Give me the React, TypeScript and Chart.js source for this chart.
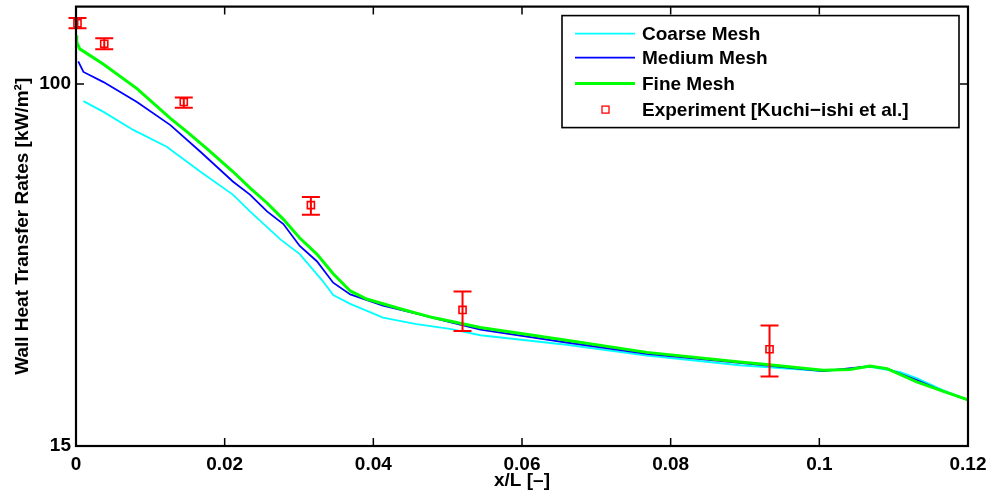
import React, { useEffect, useRef } from "react";
import { Chart, registerables } from "chart.js";

Chart.register(...registerables);

const FONT = '"Liberation Sans", Arial, Helvetica, sans-serif';

const coarseX = [0.001, 0.0037, 0.0077, 0.0122, 0.0167, 0.0211, 0.0234, 0.0275, 0.0301, 0.0332, 0.0346, 0.0369, 0.0413, 0.0458, 0.0503, 0.0544, 0.066, 0.0768, 0.0893, 0.1005, 0.1068, 0.1109, 0.1131, 0.1166, 0.12];
const coarseY = [91.4, 86.4, 78.6, 72.0, 63.2, 56.0, 51.3, 44.3, 41.0, 35.6, 33.1, 31.6, 29.4, 28.4, 27.7, 26.8, 25.5, 24.1, 22.9, 22.2, 22.7, 22.1, 21.4, 20.1, 19.1];

const mediumX = [0.0003, 0.001, 0.0037, 0.0082, 0.0127, 0.0167, 0.0211, 0.0234, 0.0257, 0.0279, 0.0301, 0.0324, 0.0346, 0.0369, 0.0413, 0.0458, 0.0503, 0.0544, 0.066, 0.0768, 0.0893, 0.1005, 0.1068, 0.1091, 0.1131, 0.1166, 0.12];
const mediumY = [112.6, 106.5, 101.0, 91.0, 80.6, 70.2, 60.0, 56.0, 51.3, 48.0, 42.8, 39.5, 35.3, 33.2, 31.3, 30.0, 28.7, 27.6, 25.8, 24.3, 23.2, 22.2, 22.8, 22.5, 21.2, 20.0, 19.1];

const fineX = [0, 0.0001, 0.0005, 0.0036, 0.0082, 0.0127, 0.0149, 0.0176, 0.0211, 0.0234, 0.0257, 0.0279, 0.0301, 0.0324, 0.0346, 0.0369, 0.0391, 0.0436, 0.048, 0.0544, 0.066, 0.0768, 0.0893, 0.0929, 0.1005, 0.1041, 0.1068, 0.1091, 0.1131, 0.1166, 0.12];
const fineY = [128.9, 124.5, 120.2, 111.2, 97.6, 83.5, 77.9, 71.3, 63.2, 58.0, 53.6, 49.2, 44.6, 41.0, 37.0, 33.8, 32.4, 30.8, 29.4, 27.9, 26.1, 24.5, 23.3, 23.0, 22.3, 22.4, 22.8, 22.5, 21.0, 20.0, 19.1];

const expX = [0.0002, 0.0038, 0.0145, 0.0316, 0.052, 0.0933];
const expY = [137.4, 123.4, 91.0, 53.0, 30.6, 24.9];
const expLow = [133.9, 120.0, 88.3, 50.4, 27.4, 21.6];
const expHigh = [141.3, 127.1, 93.1, 55.3, 33.7, 28.2];

const xTickValues = [0, 0.02, 0.04, 0.06, 0.08, 0.1, 0.12];
const xTickLabels = ["0", "0.02", "0.04", "0.06", "0.08", "0.1", "0.12"];
const yTickValues = [15, 100];
const yTickLabels = ["15", "100"];

const seriesLabels = ["Coarse Mesh", "Medium Mesh", "Fine Mesh", "Experiment [Kuchi\u2212ishi et al.]"];
const seriesColors = ["#00ffff", "#0000ff", "#00ff00", "#ff0000"];

const toPts = (xs: number[], ys: number[]) => xs.map((x, i) => ({ x, y: ys[i] }));

const errorBarPlugin = {
  id: "errorBars",
  afterDatasetsDraw(chart: any) {
    const { ctx, scales } = chart;
    const xs = scales.x;
    const ys = scales.y;
    ctx.save();
    ctx.strokeStyle = "#ff0000";
    ctx.lineWidth = 2;
    for (let i = 0; i < expX.length; i++) {
      const px = xs.getPixelForValue(expX[i]);
      const pl = ys.getPixelForValue(expLow[i]);
      const ph = ys.getPixelForValue(expHigh[i]);
      ctx.beginPath();
      ctx.moveTo(px, pl);
      ctx.lineTo(px, ph);
      ctx.moveTo(px - 9, pl);
      ctx.lineTo(px + 9, pl);
      ctx.moveTo(px - 9, ph);
      ctx.lineTo(px + 9, ph);
      ctx.stroke();
    }
    ctx.restore();
  },
};

const framePlugin = {
  id: "frame",
  afterDraw(chart: any) {
    const { ctx, chartArea, scales } = chart;
    const { left, right, top, bottom } = chartArea;
    ctx.save();
    ctx.strokeStyle = "#000";
    ctx.lineWidth = 1.5;
    ctx.beginPath();
    xTickValues.forEach((v) => {
      const px = scales.x.getPixelForValue(v);
      ctx.moveTo(px, bottom);
      ctx.lineTo(px, bottom - 8);
      ctx.moveTo(px, top);
      ctx.lineTo(px, top + 8);
    });
    yTickValues.forEach((v) => {
      const py = scales.y.getPixelForValue(v);
      ctx.moveTo(left, py);
      ctx.lineTo(left + 8, py);
      ctx.moveTo(right, py);
      ctx.lineTo(right - 8, py);
    });
    ctx.stroke();
    ctx.lineWidth = 2.2;
    ctx.strokeRect(left, top, right - left, bottom - top);

    // legend
    const lw = 397;
    const lh = 112;
    const lx = right - 9 - lw;
    const ly = top + 9;
    ctx.fillStyle = "#fff";
    ctx.fillRect(lx, ly, lw, lh);
    ctx.lineWidth = 1.6;
    ctx.strokeStyle = "#000";
    ctx.strokeRect(lx, ly, lw, lh);
    ctx.font = `bold 19px ${FONT}`;
    ctx.textBaseline = "middle";
    ctx.textAlign = "left";
    const rowYs = [18, 42, 68, 94];
    const widths = [1.8, 1.8, 3, 1];
    seriesLabels.forEach((lab, i) => {
      const cy = ly + rowYs[i];
      if (i < 3) {
        ctx.strokeStyle = seriesColors[i];
        ctx.lineWidth = widths[i];
        ctx.beginPath();
        ctx.moveTo(lx + 13, cy);
        ctx.lineTo(lx + 73, cy);
        ctx.stroke();
      } else {
        ctx.strokeStyle = seriesColors[i];
        ctx.lineWidth = 1.3;
        ctx.strokeRect(lx + 40, cy - 3.5, 7, 7);
      }
      ctx.fillStyle = "#000";
      ctx.fillText(lab, lx + 80, cy + 1);
    });
    ctx.restore();
  },
};

export default function App() {
  const ref = useRef<HTMLCanvasElement | null>(null);
  useEffect(() => {
    if (!ref.current) return;
    const chart = new Chart(ref.current, {
      type: "scatter",
      data: {
        datasets: [
          {
            label: seriesLabels[0],
            data: toPts(coarseX, coarseY),
            showLine: true,
            borderColor: seriesColors[0],
            borderWidth: 1.8,
            pointRadius: 0,
            tension: 0,
            order: 3,
          },
          {
            label: seriesLabels[1],
            data: toPts(mediumX, mediumY),
            showLine: true,
            borderColor: seriesColors[1],
            borderWidth: 1.8,
            pointRadius: 0,
            tension: 0,
            order: 2,
          },
          {
            label: seriesLabels[2],
            data: toPts(fineX, fineY),
            showLine: true,
            borderColor: seriesColors[2],
            borderWidth: 3,
            pointRadius: 0,
            tension: 0,
            order: 1,
          },
          {
            label: seriesLabels[3],
            data: toPts(expX, expY),
            showLine: false,
            borderColor: seriesColors[3],
            backgroundColor: "rgba(0,0,0,0)",
            borderWidth: 1.6,
            pointStyle: "rect",
            pointRadius: 5,
            clip: false as any,
            order: 0,
          },
        ] as any,
      },
      options: {
        animation: false,
        responsive: false,
        devicePixelRatio: 1,
        layout: { padding: { left: 0, right: 27, top: 5, bottom: 0 } },
        plugins: {
          legend: { display: false },
          tooltip: { enabled: false },
        },
        scales: {
          x: {
            type: "linear",
            min: 0,
            max: 0.12,
            grid: { display: false, drawTicks: false },
            border: { display: false },
            afterFit: (s: any) => {
              s.height = 51;
              s.paddingLeft = 0;
              s.paddingRight = 0;
            },
            afterBuildTicks: (s: any) => {
              s.ticks = xTickValues.map((v) => ({ value: v }));
            },
            ticks: {
              padding: 7,
              color: "#000",
              font: { family: FONT, size: 19, weight: "bold" },
              maxRotation: 0,
              autoSkip: false,
              callback: (v: any) => {
                const i = xTickValues.findIndex((t) => Math.abs(t - Number(v)) < 1e-9);
                return i >= 0 ? xTickLabels[i] : "";
              },
            },
            title: {
              display: true,
              text: "x/L [\u2013]",
              color: "#000",
              font: { family: FONT, size: 19, weight: "bold" },
              padding: { top: 0, bottom: 5 },
            },
          },
          y: {
            type: "logarithmic",
            min: 15,
            max: 150,
            grid: { display: false, drawTicks: false },
            border: { display: false },
            afterFit: (s: any) => {
              s.width = 76;
              s.paddingTop = 0;
              s.paddingBottom = 0;
            },
            afterBuildTicks: (s: any) => {
              s.ticks = yTickValues.map((v) => ({ value: v }));
            },
            ticks: {
              padding: 5,
              color: "#000",
              font: { family: FONT, size: 19, weight: "bold" },
              autoSkip: false,
              callback: (v: any) => {
                const i = yTickValues.findIndex((t) => Math.abs(t - Number(v)) < 1e-9);
                return i >= 0 ? yTickLabels[i] : "";
              },
            },
            title: {
              display: true,
              text: "Wall Heat Transfer Rates [kW/m\u00b2]",
              color: "#000",
              font: { family: FONT, size: 19, weight: "bold" },
              padding: { top: 11, bottom: 0 },
            },
          },
        },
      } as any,
      plugins: [errorBarPlugin, framePlugin],
    });
    return () => chart.destroy();
  }, []);
  return (
    <div style={{ position: "fixed", left: 0, top: 0, width: 995, height: 497, background: "#fff" }}>
      <canvas ref={ref} width={995} height={497} style={{ width: 995, height: 497, display: "block" }} />
    </div>
  );
}
